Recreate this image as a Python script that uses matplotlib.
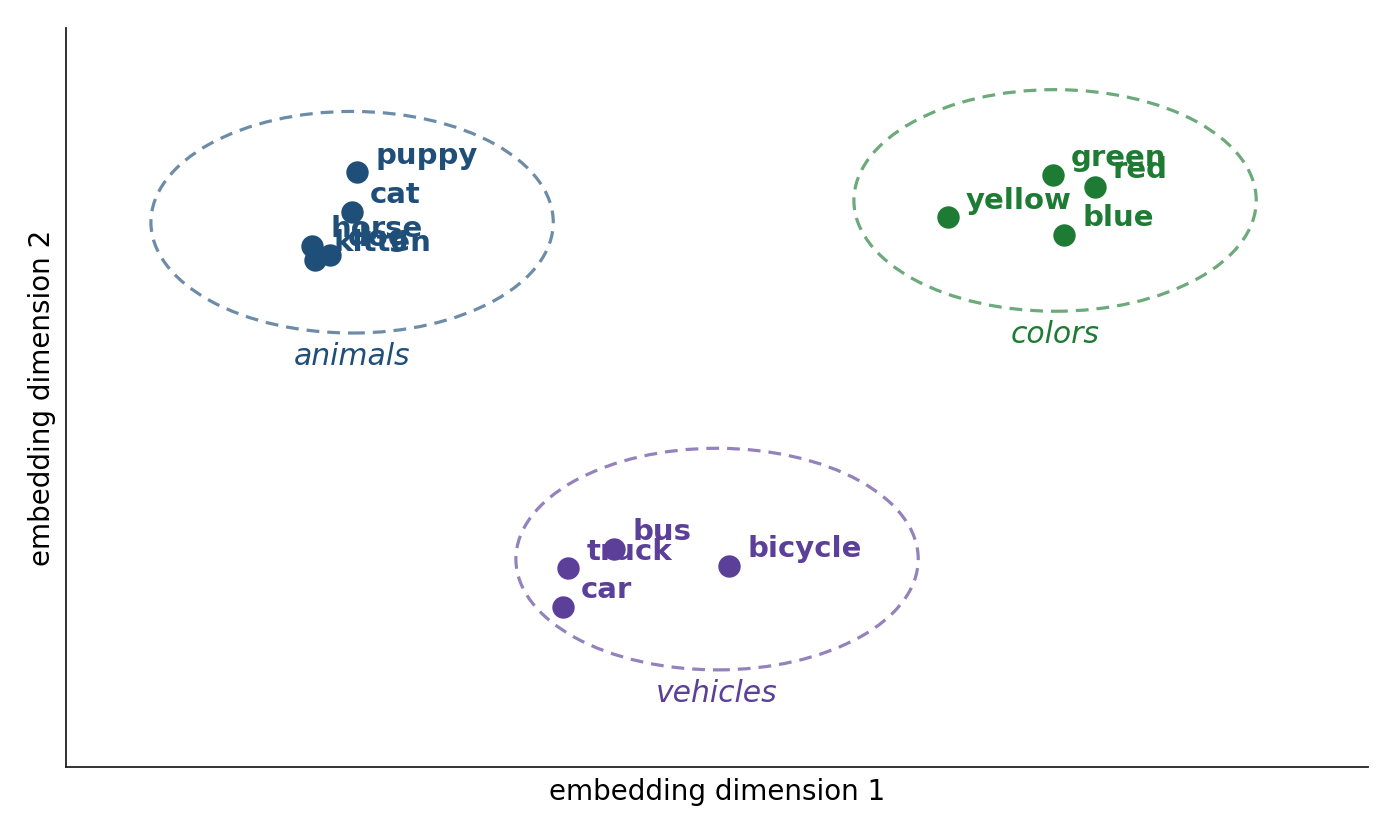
import numpy as np
import matplotlib
matplotlib.use("Agg")
import matplotlib.pyplot as plt
from matplotlib.patches import Ellipse

# words and their 2-d embedding coordinates
animal_words = ["puppy", "cat", "horse", "kitten", "dog"]
animal_x = [2.235, 2.197, 1.889, 1.912, 2.028]
animal_y = [8.05, 7.52, 7.06, 6.87, 6.93]

color_words = ["green", "red", "yellow", "blue"]
color_x = [7.58, 7.90, 6.77, 7.665]
color_y = [8.02, 7.85, 7.44, 7.20]

vehicle_words = ["bus", "truck", "car", "bicycle"]
vehicle_x = [4.209, 3.856, 3.817, 5.092]
vehicle_y = [2.95, 2.69, 2.165, 2.72]

# cluster outline: name, centre x, centre y
cluster_names = ["animals", "colors", "vehicles"]
cluster_cx = [2.197, 7.596, 5.0]
cluster_cy = [7.375, 7.67, 2.815]

groups = [
    (animal_words, animal_x, animal_y, "#1f4e79"),
    (color_words, color_x, color_y, "#1e7b34"),
    (vehicle_words, vehicle_x, vehicle_y, "#5b3f99"),
]

fig = plt.figure(figsize=(13.96, 8.33), dpi=100)
ax = fig.add_axes([0.0473, 0.0792, 0.9327, 0.8868])

for (words, xs, ys, col), name, cx, cy in zip(groups, cluster_names, cluster_cx, cluster_cy):
    ax.scatter(xs, ys, s=260, color=col, zorder=3, linewidths=0)
    for w, x, y in zip(words, xs, ys):
        ax.annotate(w, (x, y), xytext=(13, 12), textcoords="offset points",
                    ha="left", va="center", fontsize=21, fontweight="bold",
                    color=col, zorder=4)
    ax.add_patch(Ellipse((cx, cy), 3.09, 3.0, fill=False, edgecolor=col,
                         linestyle=(0, (4, 2.5)), linewidth=2.3, alpha=0.65))
    ax.text(cx, cy - 1.5 - 0.32, name, ha="center", va="center",
            fontsize=21.5, style="italic", color=col)

ax.set_xlim(0, 10)
ax.set_ylim(0, 10)
ax.set_xticks([])
ax.set_yticks([])
for s in ["top", "right"]:
    ax.spines[s].set_visible(False)
for s in ["left", "bottom"]:
    ax.spines[s].set_linewidth(1.3)
    ax.spines[s].set_color("#222222")
ax.set_xlabel("embedding dimension 1", fontsize=20, labelpad=8)
ax.set_ylabel("embedding dimension 2", fontsize=20, labelpad=7)

fig.savefig("out.png", dpi=100)
